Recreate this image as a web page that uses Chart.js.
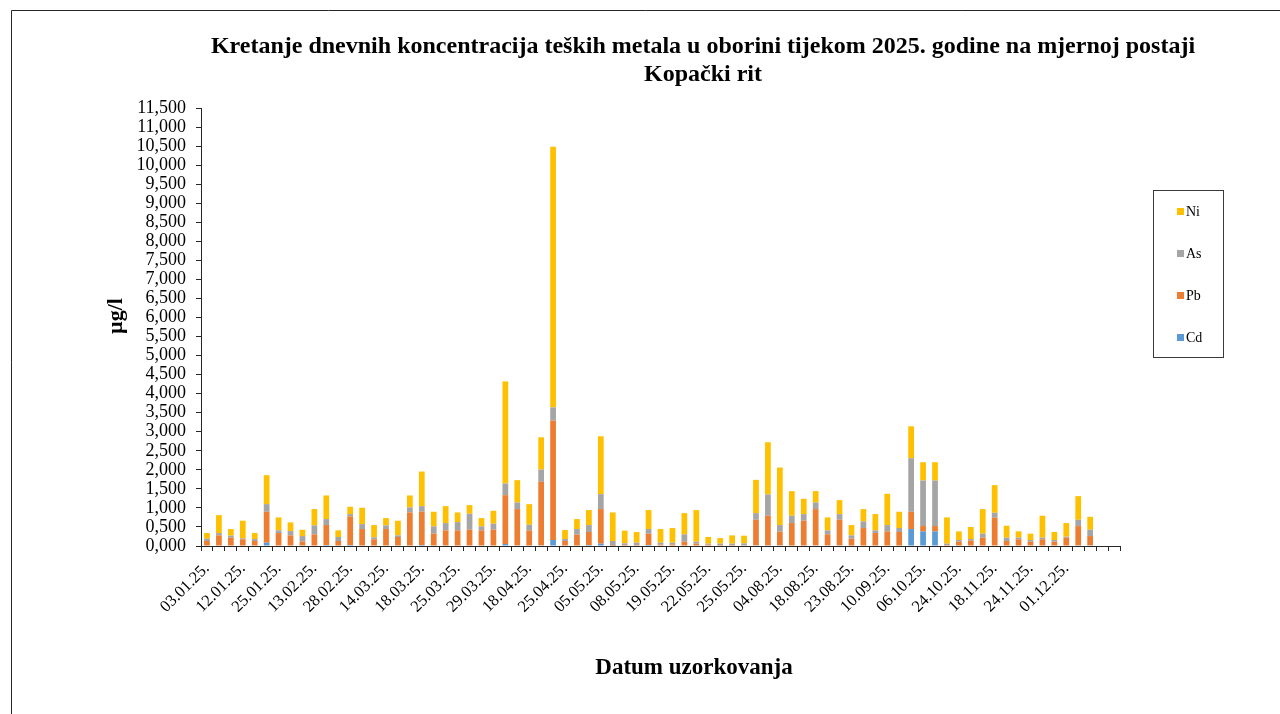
<!DOCTYPE html>
<html>
<head>
<meta charset="utf-8">
<script src="https://cdn.jsdelivr.net/npm/chart.js@4/dist/chart.umd.min.js"></script>
<style>
  html, body { margin: 0; padding: 0; background: #fff; }
  #wrap { width: 1280px; height: 714px; position: relative; }
</style>
</head>
<body>
<div id="wrap"><canvas id="chart"></canvas></div>
<script>
// Datumi uzorkovanja (prikazan je svaki treci, ostali su prazni)
const dates = [
  '03.01.25.', '', '', '12.01.25.', '', '', '25.01.25.', '', '', '13.02.25.', '', '',
  '28.02.25.', '', '', '14.03.25.', '', '', '18.03.25.', '', '', '25.03.25.', '', '',
  '29.03.25.', '', '', '18.04.25.', '', '', '25.04.25.', '', '', '05.05.25.', '', '',
  '08.05.25.', '', '', '19.05.25.', '', '', '22.05.25.', '', '', '25.05.25.', '', '',
  '04.08.25.', '', '', '18.08.25.', '', '', '23.08.25.', '', '', '10.09.25.', '', '',
  '06.10.25.', '', '', '24.10.25.', '', '', '18.11.25.', '', '', '24.11.25.', '', '',
  '01.12.25.', '', '', '', ''
];

// koncentracije u µg/l
const cd = [
  0, 0, 0, 0, 0, 0.087, 0, 0, 0, 0, 0.026, 0, 0.026, 0, 0, 0, 0, 0, 0.026, 0,
  0, 0, 0, 0, 0, 0.052, 0.017, 0, 0.017, 0.157, 0, 0, 0.026, 0.061, 0.009, 0, 0, 0.026, 0, 0,
  0, 0, 0, 0, 0, 0, 0.017, 0.017, 0.017, 0, 0, 0.017, 0.017, 0.017, 0, 0, 0, 0, 0, 0.445,
  0.384, 0.384, 0, 0, 0, 0, 0, 0, 0, 0, 0, 0, 0, 0.017, 0.017, null, null
];
const pb = [
  0.131, 0.279, 0.218, 0.175, 0.131, 0.812, 0.340, 0.279, 0.113, 0.306, 0.524, 0.131, 0.751, 0.445, 0.175, 0.445, 0.236, 0.882, 0.873, 0.323,
  0.410, 0.410, 0.428, 0.410, 0.428, 1.283, 0.952, 0.410, 1.667, 3.134, 0.131, 0.297, 0.341, 0.908, 0.017, 0.026, 0.026, 0.297, 0.035, 0.035,
  0.113, 0.061, 0.035, 0.026, 0.026, 0.017, 0.672, 0.777, 0.358, 0.602, 0.663, 0.952, 0.288, 0.672, 0.192, 0.471, 0.340, 0.384, 0.367, 0.454,
  0.140, 0.140, 0.026, 0.113, 0.140, 0.218, 0.742, 0.131, 0.175, 0.113, 0.175, 0.113, 0.218, 0.506, 0.244, null, null
];
const as = [
  0.061, 0.061, 0.052, 0.026, 0.052, 0.201, 0.070, 0.113, 0.148, 0.236, 0.157, 0.105, 0.061, 0.131, 0.052, 0.096, 0.044, 0.131, 0.148, 0.192,
  0.192, 0.218, 0.419, 0.105, 0.157, 0.306, 0.175, 0.148, 0.323, 0.349, 0.052, 0.148, 0.183, 0.393, 0.105, 0.044, 0.061, 0.122, 0.052, 0.052,
  0.192, 0.052, 0.026, 0.035, 0.035, 0.052, 0.175, 0.559, 0.175, 0.192, 0.175, 0.175, 0.105, 0.148, 0.087, 0.175, 0.070, 0.166, 0.105, 1.406,
  1.196, 1.196, 0.035, 0.044, 0.044, 0.105, 0.131, 0.087, 0.044, 0.044, 0.044, 0.044, 0.026, 0.166, 0.166, null, null
];
const ni = [
  0.148, 0.471, 0.175, 0.463, 0.157, 0.760, 0.340, 0.227, 0.166, 0.428, 0.620, 0.175, 0.192, 0.428, 0.323, 0.192, 0.384, 0.314, 0.908, 0.384,
  0.445, 0.253, 0.227, 0.218, 0.340, 2.680, 0.585, 0.541, 0.847, 6.840, 0.236, 0.262, 0.393, 1.519, 0.751, 0.332, 0.279, 0.498, 0.358, 0.384,
  0.559, 0.830, 0.175, 0.148, 0.218, 0.201, 0.873, 1.371, 1.510, 0.646, 0.402, 0.297, 0.340, 0.367, 0.271, 0.323, 0.428, 0.821, 0.428, 0.838,
  0.480, 0.480, 0.690, 0.227, 0.314, 0.646, 0.725, 0.314, 0.166, 0.166, 0.576, 0.210, 0.358, 0.620, 0.340, null, null
];

const serif = "'Liberation Serif', 'Times New Roman', serif";

// naslovi, okvir i legenda
const decor = {
  id: 'decor',
  afterDraw(chart) {
    const ctx = chart.ctx;
    ctx.save();
    // okvir
    ctx.strokeStyle = '#262626';
    ctx.lineWidth = 1;
    ctx.beginPath();
    ctx.moveTo(11.5, 714);
    ctx.lineTo(11.5, 10.5);
    ctx.lineTo(1280, 10.5);
    ctx.stroke();

    ctx.fillStyle = '#000';
    ctx.textAlign = 'center';
    ctx.textBaseline = 'middle';
    ctx.font = 'bold 24px ' + serif;
    ctx.fillText('Kretanje dnevnih koncentracija teških metala u oborini tijekom 2025. godine na mjernoj postaji', 703, 47);
    ctx.fillText('Kopački rit', 703, 75);

    ctx.font = 'bold 23px ' + serif;
    ctx.fillText('Datum uzorkovanja', 694, 668);

    ctx.save();
    ctx.translate(116, 316);
    ctx.rotate(-Math.PI / 2);
    ctx.font = 'bold 22px ' + serif;
    ctx.fillText('µg/l', 0, 0);
    ctx.restore();

    // legenda
    ctx.strokeStyle = '#3a3a3a';
    ctx.strokeRect(1153.5, 190.5, 70, 167);
    ctx.font = '14px ' + serif;
    ctx.textAlign = 'left';
    const items = chart.data.datasets.slice().reverse();
    items.forEach((ds, i) => {
      const y = 211 + i * 42;
      ctx.fillStyle = ds.backgroundColor;
      ctx.fillRect(1177, y - 3, 7, 7);
      ctx.fillStyle = '#000';
      ctx.fillText(ds.label, 1186, y + 1);
    });
    ctx.restore();
  }
};

new Chart(document.getElementById('chart'), {
  type: 'bar',
  data: {
    labels: dates,
    datasets: [
      { label: 'Cd', data: cd, backgroundColor: '#5B9BD5' },
      { label: 'Pb', data: pb, backgroundColor: '#ED7D31' },
      { label: 'As', data: as, backgroundColor: '#A5A5A5' },
      { label: 'Ni', data: ni, backgroundColor: '#FFC000' }
    ]
  },
  options: {
    responsive: true,
    maintainAspectRatio: false,
    animation: false,
    barPercentage: 0.48,
    categoryPercentage: 1,
    layout: { padding: { top: 108, right: 160, left: 0, bottom: 0 } },
    plugins: {
      legend: { display: false },
      title: { display: false },
      tooltip: { enabled: false }
    },
    scales: {
      x: {
        stacked: true,
        offset: true,
        grid: { offset: true, drawOnChartArea: false, tickLength: 5, color: '#262626' },
        border: { color: '#262626' },
        ticks: {
          autoSkip: false,
          minRotation: 45,
          maxRotation: 45,
          padding: 8,
          color: '#000',
          font: { family: serif, size: 16.5 }
        },
        afterFit: s => { s.height = 714 - 546; }
      },
      y: {
        stacked: true,
        min: 0,
        max: 11.5,
        grid: { drawOnChartArea: false, tickLength: 5, color: '#262626' },
        border: { color: '#262626' },
        ticks: {
          stepSize: 0.5,
          autoSkip: false,
          padding: 10,
          color: '#000',
          font: { family: serif, size: 18 },
          callback: v => v.toFixed(3).replace('.', ',')
        },
        afterFit: s => { s.width = 201; }
      }
    }
  },
  plugins: [decor]
});
</script>
</body>
</html>
